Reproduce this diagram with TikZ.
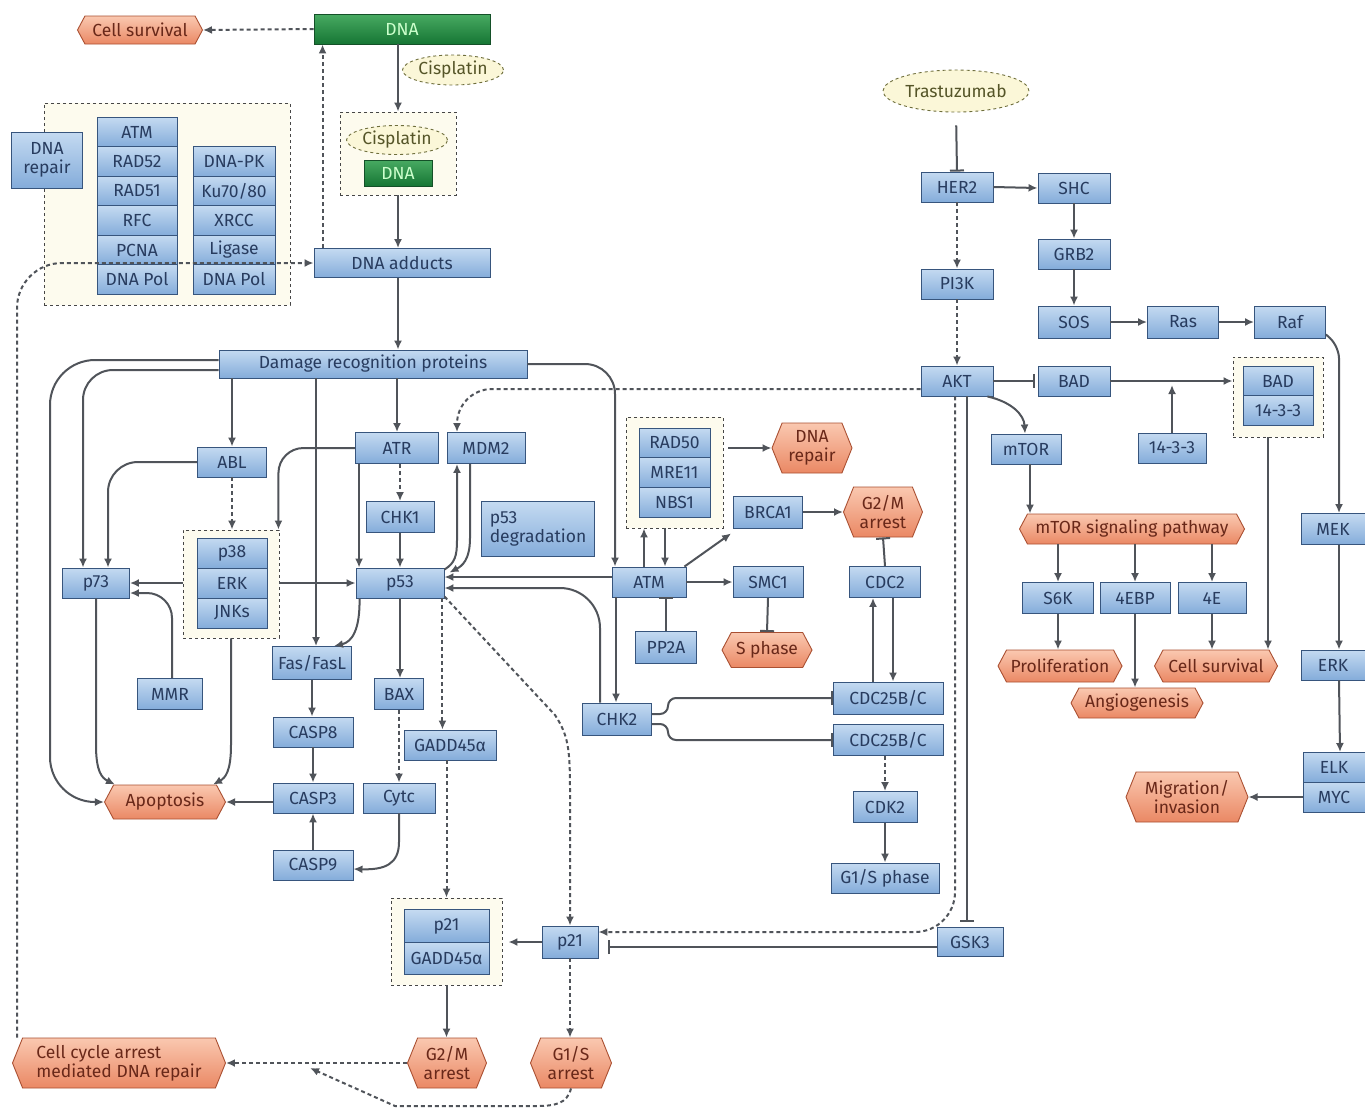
\documentclass[tikz,border=0pt]{standalone}
\usepackage{fontspec}
\setmainfont{Fira Sans}
\usetikzlibrary{arrows.meta,positioning,shapes.geometric,shapes.symbols}

\definecolor{boxtop}{RGB}{196,218,241}
\definecolor{boxbot}{RGB}{132,172,218}
\definecolor{boxline}{RGB}{55,85,125}
\definecolor{boxtext}{RGB}{40,60,95}
\definecolor{hextop}{RGB}{250,200,176}
\definecolor{hexbot}{RGB}{234,136,100}
\definecolor{hexline}{RGB}{170,80,50}
\definecolor{hextext}{RGB}{105,40,25}
\definecolor{grntop}{RGB}{72,170,98}
\definecolor{grnbot}{RGB}{22,118,52}
\definecolor{grnline}{RGB}{20,80,40}
\definecolor{drugfill}{RGB}{251,247,216}
\definecolor{drugline}{RGB}{110,110,60}
\definecolor{drugtext}{RGB}{85,85,40}
\definecolor{grpfill}{RGB}{253,251,238}
\definecolor{grpline}{RGB}{70,70,70}
\definecolor{arr}{RGB}{80,84,90}

\newcommand{\nodefont}{\fontsize{17.5}{19}\selectfont}

\begin{document}
\begin{tikzpicture}[
    x=1pt, y=-1pt,
    box/.style={rectangle, draw=boxline, line width=0.9pt, top color=boxtop, bottom color=boxbot, text=boxtext, inner sep=1pt, minimum height=30pt, font=\nodefont, align=center},
    cell/.style={box, outer sep=0pt, minimum height=29.5pt},
    grn/.style={rectangle, draw=grnline, line width=0.9pt, top color=grntop, bottom color=grnbot, text=white!80!green, inner sep=1pt, font=\nodefont},
    hexa/.style={signal, signal to=west and east, signal pointer angle=124, draw=hexline, line width=0.9pt, top color=hextop, bottom color=hexbot, text=hextext, inner sep=1pt, minimum height=30pt, font=\nodefont, align=center},
    hexb/.style={hexa, signal pointer angle=136, minimum height=50pt},
    drug/.style={ellipse, draw=drugline, dashed, line width=0.9pt, fill=drugfill, text=drugtext, inner sep=1pt, font=\nodefont},
    grp/.style={rectangle, draw=grpline, dashed, line width=0.9pt, fill=grpfill},
    line/.style={-{Latex[length=9pt,width=8pt]}, draw=arr, line width=2pt},
    dline/.style={line, dash pattern=on 4pt off 3pt},
    iline/.style={-{Bar[width=14pt]}, draw=arr, line width=2pt}
]
\useasboundingbox[fill=white] (0,0) rectangle (1365,1109);

% dashed groups
\node[grp, minimum width=246pt, minimum height=202pt] (repgrp) at (167,204) {};
\node[grp, minimum width=116pt, minimum height=83pt] (cisgrp) at (398,153.5) {};
\node[grp, minimum width=96pt, minimum height=108pt] (mapkgrp) at (231,584) {};
\node[grp, minimum width=97pt, minimum height=111pt] (radgrp) at (674.5,472.5) {};
\node[grp, minimum width=90pt, minimum height=80pt] (badgrp) at (1278,397) {};
\node[grp, minimum width=111pt, minimum height=87pt] (p21grp) at (446.5,941.5) {};

% top: DNA and cisplatin
\node[hexa, minimum width=125pt, minimum height=28pt] (csurv) at (140,30) {Cell survival};
\node[grn, minimum width=176pt, minimum height=30pt] (dna) at (402,29) {DNA};
\node[drug, minimum width=100pt, minimum height=30pt] (cis1) at (453,70) {Cisplatin};
\node[drug, minimum width=98pt, minimum height=29pt] (cis2) at (397,140) {Cisplatin};
\node[grn, minimum width=68pt, minimum height=26pt] (dnab) at (398,173) {DNA};
\node[box, minimum width=176pt, minimum height=29pt] (adducts) at (402,263) {DNA adducts};

% DNA repair machinery
\node[box, minimum width=71pt, minimum height=56pt] (dnarepair) at (47,160) {DNA\\repair};
\node[cell, minimum width=80pt] (atm1) at (137,132) {ATM};
\node[cell, minimum width=80pt, below=0pt of atm1] (rad52) {RAD52};
\node[cell, minimum width=80pt, below=0pt of rad52] (rad51) {RAD51};
\node[cell, minimum width=80pt, below=0pt of rad51] (rfc) {RFC};
\node[cell, minimum width=80pt, below=0pt of rfc] (pcna) {PCNA};
\node[cell, minimum width=80pt, below=0pt of pcna] (pola) {DNA Pol};
\node[cell, minimum width=82pt] (dnapk) at (234,161.5) {DNA-PK};
\node[cell, minimum width=82pt, below=0pt of dnapk] (ku) {Ku70/80};
\node[cell, minimum width=82pt, below=0pt of ku] (xrcc) {XRCC};
\node[cell, minimum width=82pt, below=0pt of xrcc] (ligase) {Ligase};
\node[cell, minimum width=82pt, below=0pt of ligase] (polb) {DNA Pol};

\node[box, minimum width=308pt, minimum height=28pt] (drp) at (373,364) {Damage recognition proteins};

% HER2 branch
\node[drug, minimum width=124pt, minimum height=42pt] (tras) at (956,91) {Trastuzumab};
\node[box, minimum width=72pt] (her2) at (957,187) {HER2};
\node[box, minimum width=72pt] (shc) at (1074,188) {SHC};
\node[box, minimum width=72pt] (grb2) at (1074,254) {GRB2};
\node[box, minimum width=72pt, minimum height=32pt] (sos) at (1074,322) {SOS};
\node[box, minimum width=71pt, minimum height=32pt] (ras) at (1183,322) {Ras};
\node[box, minimum width=71pt, minimum height=32pt] (raf) at (1290,322) {Raf};
\node[box, minimum width=72pt] (pi3k) at (957,284) {PI3K};
\node[box, minimum width=72pt] (akt) at (957,381) {AKT};
\node[box, minimum width=72pt] (bad) at (1074,381) {BAD};
\node[cell, minimum width=70pt] (bad2) at (1278,381) {BAD};
\node[cell, minimum width=70pt, below=0pt of bad2] (ywhab) {14-3-3};
\node[box, minimum width=68pt] (ywha) at (1172,448) {14-3-3};
\node[box, minimum width=70pt] (mtor) at (1026,449) {mTOR};
\node[hexa, minimum width=225pt] (mtorp) at (1132,529) {mTOR signaling pathway};
\node[box, minimum width=71pt, minimum height=31pt] (s6k) at (1058,598) {S6K};
\node[box, minimum width=70pt, minimum height=31pt] (febp) at (1135,598) {4EBP};
\node[box, minimum width=68pt, minimum height=31pt] (fe) at (1212,598) {4E};
\node[hexa, minimum width=124pt, minimum height=32pt] (prolif) at (1060,666) {Proliferation};
\node[hexa, minimum width=132pt] (angio) at (1137,703) {Angiogenesis};
\node[hexa, minimum width=123pt, minimum height=32pt] (csurv2) at (1216,666) {Cell survival};
\node[box, minimum width=64pt, minimum height=31pt] (mek) at (1333,529) {MEK};
\node[box, minimum width=64pt] (erk) at (1333,665) {ERK};
\node[cell, minimum width=62pt, minimum height=30pt] (elk) at (1334,767) {ELK};
\node[cell, minimum width=62pt, minimum height=30pt, below=0pt of elk] (myc) {MYC};
\node[hexb, minimum width=122pt] (migr) at (1187,797) {Migration/\\invasion};

% left: p73 and apoptosis
\node[box, minimum width=69pt] (abl) at (232,462) {ABL};
\node[cell, minimum width=70pt, minimum height=30pt] (p38) at (232,553) {p38};
\node[cell, minimum width=70pt, minimum height=30pt, below=0pt of p38] (erk2) {ERK};
\node[cell, minimum width=70pt, minimum height=30pt, below=0pt of erk2] (jnk) {JNKs};
\node[box, minimum width=67pt] (p73) at (96,583) {p73};
\node[box, minimum width=65pt, minimum height=31pt] (mmr) at (170,694) {MMR};
\node[hexa, minimum width=121pt, minimum height=34pt] (apop) at (165,802) {Apoptosis};

% p53 hub
\node[box, minimum width=83pt, minimum height=31pt] (atr) at (397,448) {ATR};
\node[box, minimum width=78pt, minimum height=31pt] (mdm2) at (486,448) {MDM2};
\node[box, minimum width=68pt, minimum height=31pt] (chk1) at (400,517) {CHK1};
\node[box, minimum width=88pt] (p53) at (400,583) {p53};
\node[box, minimum width=113pt, minimum height=55pt, align=left] (p53deg) at (538,529) {p53\\degradation};
\node[box, minimum width=79pt, minimum height=33pt] (fas) at (312,663) {Fas/FasL};
\node[box, minimum width=80pt] (casp8) at (313,732) {CASP8};
\node[box, minimum width=80pt] (casp3) at (313,798) {CASP3};
\node[box, minimum width=80pt] (casp9) at (313,865) {CASP9};
\node[box, minimum width=49pt, minimum height=31pt] (bax) at (399,694) {BAX};
\node[box, minimum width=72pt] (cytc) at (399,798) {Cytc};
\node[box, minimum width=92pt] (gadd) at (450,745) {GADD45α};

% ATM branch
\node[cell, minimum width=71pt, minimum height=29.7pt] (rad50) at (674.5,443) {RAD50};
\node[cell, minimum width=71pt, minimum height=29.7pt, below=0pt of rad50] (mre11) {MRE11};
\node[cell, minimum width=71pt, minimum height=29.7pt, below=0pt of mre11] (nbs1) {NBS1};
\node[hexb, minimum width=80pt] (dnarep2) at (812,448) {DNA\\repair};
\node[box, minimum width=74pt] (atm) at (649,582) {ATM};
\node[box, minimum width=69pt, minimum height=32pt] (brca1) at (768,512) {BRCA1};
\node[hexb, minimum width=79pt] (g2m1) at (883,512) {G2/M\\arrest};
\node[box, minimum width=70pt, minimum height=31pt] (smc1) at (768,582) {SMC1};
\node[box, minimum width=71pt, minimum height=31pt] (cdc2) at (885,582) {CDC2};
\node[box, minimum width=61pt, minimum height=32pt] (pp2a) at (666,647) {PP2A};
\node[hexa, minimum width=90pt, minimum height=35pt] (sphase) at (767,650) {S phase};
\node[box, minimum width=69pt, minimum height=32pt] (chk2) at (617,719) {CHK2};
\node[box, minimum width=110pt, minimum height=32pt] (cdc25a) at (888,698) {CDC25B/C};
\node[box, minimum width=110pt, minimum height=31pt] (cdc25b) at (888,740) {CDC25B/C};
\node[box, minimum width=64pt, minimum height=31pt] (cdk2) at (885,807) {CDK2};
\node[box, minimum width=108pt] (g1sph) at (885,878) {G1/S phase};
\node[box, minimum width=66pt, minimum height=29pt] (gsk3) at (970,942) {GSK3};

% cell cycle arrest
\node[cell, minimum width=85pt, minimum height=32.5pt] (p21a) at (446.5,926) {p21};
\node[cell, minimum width=85pt, minimum height=32.5pt, below=0pt of p21a] (gadd2) {GADD45α};
\node[box, minimum width=56pt, minimum height=32pt] (p21) at (570,942) {p21};
\node[hexb, minimum width=79pt] (g2m2) at (447,1063) {G2/M\\arrest};
\node[hexb, minimum width=81pt] (g1sar) at (571,1063) {G1/S\\arrest};
\node[hexb, minimum width=213pt, align=left] (cycrep) at (119,1063) {Cell cycle arrest\\mediated DNA repair};
\coordinate (loopend) at (310,1068);

% connectors: top
\draw[dline] (dna.west) -- (csurv.east);
\draw[line] (dna.south -| cisgrp.north) -- (cisgrp.north);
\draw[line] (cisgrp.south) -- (cisgrp.south |- adducts.north);
\draw[dline] ([xshift=9pt]adducts.north west) -- ([xshift=9pt]adducts.north west |- dna.south);
\draw[dline, rounded corners=45pt] ([xshift=-102pt]cycrep.north) |- (adducts.west);
\draw[line] ([xshift=-4pt]adducts.south) -- ([xshift=-4pt]adducts.south |- drp.north);

% HER2 branch
\draw[iline, shorten <=13pt] (tras.south) -- (her2.north);
\draw[line] (her2.east) -- (shc.west);
\draw[line] (shc.south) -- (grb2.north);
\draw[line] (grb2.south) -- (sos.north);
\draw[line] (sos.east) -- (ras.west);
\draw[line] (ras.east) -- (raf.west);
\draw[dline] (her2.south) -- (pi3k.north);
\draw[dline] (pi3k.south) -- (akt.north);
\draw[iline, shorten >=3pt] (akt.east) -- (bad.west);
\draw[line] (bad.east) -- (bad.east -| badgrp.west);
\draw[line] (ywha.north) -- ([yshift=-4pt]ywha.north |- bad.east);
\draw[line, rounded corners=12pt] ([yshift=4pt]raf.south east) -- ([xshift=6pt,yshift=-8pt]raf.south east -| mek.north) -- ([xshift=6pt]mek.north);
\draw[line] ([xshift=6pt]mek.south) -- ([xshift=6pt]erk.north);
\draw[line] ([xshift=6pt]erk.south) -- ([xshift=6pt]elk.north);
\draw[line] (myc.west) -- (migr.east);
\draw[line] ([xshift=-6pt]akt.south east) .. controls (1012,402) and (1024,415) .. ([xshift=-1pt]mtor.north);
\draw[line] ([xshift=4pt]mtor.south) -- ([xshift=4pt]mtor.south |- mtorp.north);
\draw[line] (s6k.north |- mtorp.south) -- (s6k.north);
\draw[line] (febp.north |- mtorp.south) -- (febp.north);
\draw[line] (fe.north |- mtorp.south) -- (fe.north);
\draw[line] (s6k.south) -- (s6k.south |- prolif.north);
\draw[line] (febp.south) -- (febp.south |- angio.north);
\draw[line] (fe.south) -- (fe.south |- csurv2.north);
\draw[line] ([xshift=-10pt]badgrp.south) -- ([xshift=-10pt]badgrp.south |- csurv2.north);
\draw[dline, rounded corners=35pt] ([yshift=-8pt]akt.west) -| ([xshift=-29pt]mdm2.north);
\draw[dline, rounded corners=40pt] ([xshift=-2pt]akt.south) |- ([yshift=10pt]p21.east);
\draw[iline, shorten >=5pt] ([xshift=10pt]akt.south) -- ([xshift=10pt]akt.south |- gsk3.north);
\draw[iline, shorten >=10pt] ([yshift=-5pt]gsk3.west) -- ([yshift=-5pt]gsk3.west -| p21.east);

% left side
\draw[line, rounded corners=45pt] ([yshift=4pt]drp.west) -- (50,360) -- (50,802) -- (apop.west);
\draw[line, rounded corners=30pt] ([yshift=-6pt]drp.west) -| ([xshift=-13pt]p73.north);
\draw[line, rounded corners=30pt] (abl.west) -| ([xshift=12pt]p73.north);
\draw[line] (abl.north |- drp.south) -- (abl.north);
\draw[dline] (abl.south) -- (abl.south |- mapkgrp.north);
\draw[line, rounded corners=25pt] (atr.west) -| ([xshift=-1pt]mapkgrp.north east);
\draw[line] (mapkgrp.west |- p73.east) -- (p73.east);
\draw[line, rounded corners=25pt] ([xshift=2pt]mmr.north) |- ([yshift=-10pt]p73.east);
\draw[line] (mapkgrp.east |- p53.west) -- (p53.west);
\draw[line] (p73.south) -- (96,745) .. controls (96,772) and (102,778) .. ([xshift=-50pt]apop.north);
\draw[line] (mapkgrp.south) -- (231,745) .. controls (231,772) and (225,778) .. ([xshift=48pt]apop.north);
\draw[line] ([xshift=4pt]fas.north |- drp.south) -- ([xshift=4pt]fas.north);
\draw[line] ([xshift=4pt]p53.south west) .. controls (360,630) and (352,642) .. ([xshift=22pt]fas.north);
\draw[line] (fas.south) -- (fas.south |- casp8.north);
\draw[line] (casp8.south) -- (casp3.north);
\draw[line] (casp9.north) -- (casp3.south);
\draw[line] (casp3.west |- apop.east) -- (apop.east);

% p53 hub
\draw[line] (atr.north |- drp.south) -- (atr.north);
\draw[dline] ([xshift=3pt]atr.south) -- ([xshift=3pt]atr.south |- chk1.north);
\draw[line] (chk1.south) -- (chk1.south |- p53.north);
\draw[line] ([xshift=4pt]atr.south west) -- ([xshift=4pt]atr.south west |- p53.north);
\draw[line] ([yshift=-2pt]p53.north east) .. controls (455,563) and (457,556) .. (457,540) -- ([xshift=-29pt]mdm2.south);
\draw[line] ([xshift=-16pt]mdm2.south) -- (470,538) .. controls (470,560) and (462,566) .. ([xshift=5pt,yshift=-5pt]p53.north east);
\draw[line] (p53.south) -- (p53.south |- bax.north);
\draw[dline] (bax.south) -- (bax.south |- cytc.north);
\draw[line] (cytc.south) -- (399,842) .. controls (399,864) and (385,870) .. ([yshift=-4pt]casp9.east);
\draw[dline] ([xshift=-2pt]p53.south east) -- ([xshift=-2pt]p53.south east |- gadd.north);
\draw[dline] (gadd.south -| p21grp.north) -- (p21grp.north);
\draw[dline] ([yshift=2pt]p53.south east) -- (555,715) .. controls (568,735) and (570,748) .. (570,790) -- (p21.north);

% ATM branch
\draw[line] ([yshift=5pt]atm.west) -- ([yshift=5pt]atm.west -| p53.east);
\draw[line, rounded corners=40pt] ([xshift=-17pt]chk2.north) |- ([yshift=-5pt]p53.east);
\draw[line, rounded corners=30pt] (drp.east) -| ([xshift=-34pt]atm.north);
\draw[line] ([xshift=-5pt]atm.north) -- ([xshift=-5pt]atm.north |- radgrp.south);
\draw[line] ([xshift=16pt]atm.north |- radgrp.south) -- ([xshift=16pt]atm.north);
\draw[line, shorten <=5pt] (radgrp.east |- dnarep2.west) -- (dnarep2.west);
\draw[line] ([xshift=-2pt]atm.north east) -- ([xshift=-2pt,yshift=-5pt]brca1.south west);
\draw[line] (brca1.east) -- (g2m1.west);
\draw[iline] (cdc2.north) -- (g2m1.south);
\draw[line] (atm.east) -- (smc1.west);
\draw[iline] (smc1.south) -- (sphase.north);
\draw[iline] (pp2a.north) -- (pp2a.north |- atm.south);
\draw[line] ([xshift=-33pt]atm.south) -- ([xshift=-33pt]atm.south |- chk2.north);
\draw[iline, rounded corners=8pt] ([yshift=5pt]chk2.east) -| (668,698) -- (cdc25a.west);
\draw[iline, rounded corners=8pt] ([yshift=-5pt]chk2.east) -| (668,740) -- (cdc25b.west);
\draw[line] ([xshift=-12pt]cdc2.south |- cdc25a.north) -- ([xshift=-12pt]cdc2.south);
\draw[line] ([xshift=8pt]cdc2.south) -- ([xshift=8pt]cdc2.south |- cdc25a.north);
\draw[dline] (cdk2.north |- cdc25b.south) -- (cdk2.north);
\draw[line] (cdk2.south) -- (g1sph.north);

% cell cycle arrest
\draw[line, shorten >=6pt] (p21.west) -- (p21grp.east |- p21.west);
\draw[line] (p21grp.south) -- (p21grp.south |- g2m2.north);
\draw[dline] (p21.south) -- (p21.south |- g1sar.north);
\draw[dline] (g2m2.west) -- (cycrep.east);
\draw[dline] (g1sar.south) .. controls (567,1104) and (555,1106) .. (535,1106) -- (395,1106) -- (loopend);
\end{tikzpicture}
\end{document}
